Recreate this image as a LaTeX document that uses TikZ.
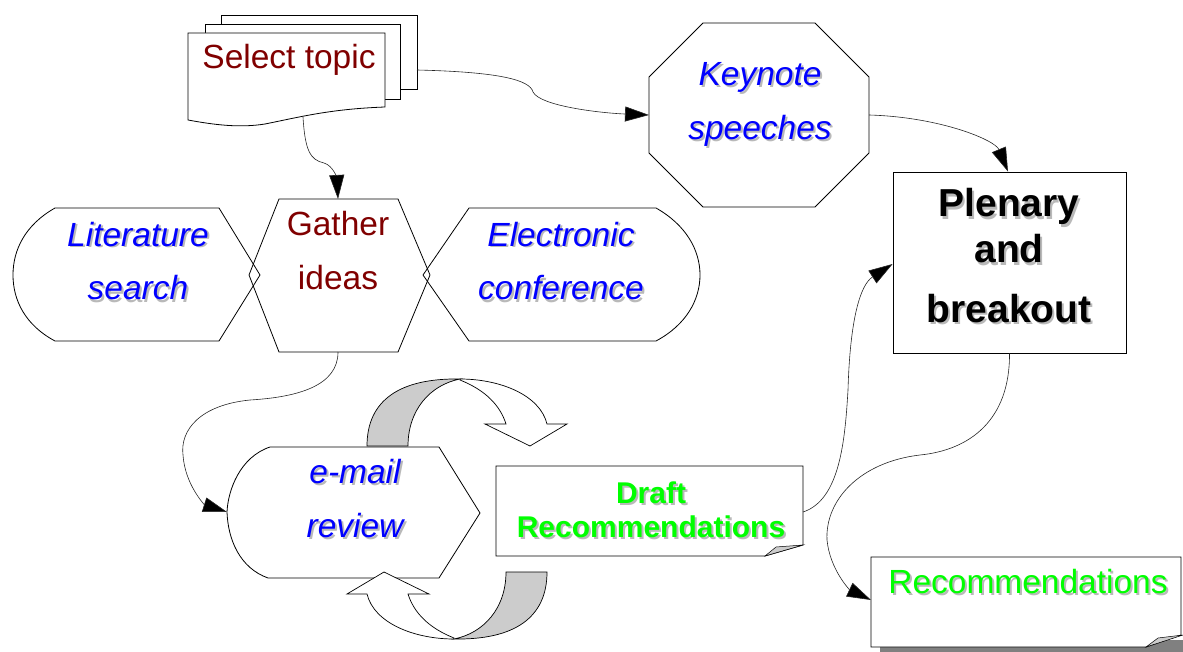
\documentclass[tikz,border=0pt]{standalone}
\usepackage{fontspec}
\setmainfont{Liberation Sans}
\usetikzlibrary{arrows.meta}

\definecolor{keyblue}{RGB}{0,0,255}
\definecolor{leafgreen}{RGB}{0,255,0}
\definecolor{topicred}{RGB}{128,0,0}
\definecolor{shadowgray}{RGB}{185,185,185}
\definecolor{ribbongray}{RGB}{204,204,204}
\definecolor{dropgray}{RGB}{128,128,128}

% text with a soft drop shadow
\newcommand\shd[1]{\leavevmode\rlap{\kern2pt\raisebox{-2pt}{\textcolor{shadowgray}{#1}}}#1}

\tikzset{
  outline/.style={draw=black, line width=0.8pt, fill=white},
  ribbon/.style={draw=black, line width=0.7pt},
  link/.style={draw=black!85, line width=0.6pt, -{Triangle[length=24pt,width=15pt,fill=black]}},
  % multi-line labels sit on the baseline of their last line
  label/.style={anchor=base, align=center, inner sep=0pt},
  plain/.style={label, font=\fontsize{33.5}{54}\selectfont},
  bluetext/.style={label, font=\fontsize{33.5}{54}\selectfont\itshape, text=keyblue},
}

\begin{document}
\begin{tikzpicture}[x=1pt,y=-1pt]
\useasboundingbox (0,0) rectangle (1183,652);

% ---- stacked documents: Select topic
\draw[outline] (221,15) rectangle (417,89);
\draw[outline] (205,24) rectangle (400,99);
\draw[outline] (188,33) -- (385,33) -- (385,107)
  .. controls (330,109) and (300,117) .. (265,124)
  .. controls (240,128) and (215,125) .. (188,120) -- cycle;
\node[plain, text=topicred] (tSelect) at (289,69) {Select topic};

% ---- octagon: Keynote speeches
\draw[outline] (703,23) -- (815,23) -- (869,77) -- (869,153) -- (815,207)
  -- (703,207) -- (649,153) -- (649,77) -- cycle;
\node[bluetext] (tKeynote) at (760,140) {\shd{Keynote}\\\shd{speeches}};

% ---- Plenary and breakout
\node[draw=black, line width=0.8pt, fill=white, minimum width=233pt,
      minimum height=181pt, inner sep=0pt] (plen) at (1009.5,262.5) {};
\node[label, font=\fontsize{39}{46}\selectfont\bfseries] (tPlen) at (1009,322)
  {\shd{Plenary}\\\shd{and}\\[13pt]\shd{breakout}};

% ---- Literature search
\draw[outline] (55,208) -- (219,208) -- (260,275) -- (219,341) -- (55,341)
  .. controls (25,325) and (13,300) .. (13,275)
  .. controls (13,250) and (25,225) .. (55,208) -- cycle;
\node[bluetext] (tLit) at (138,300) {\shd{Literature}\\\shd{search}};

% ---- Electronic conference
\draw[outline] (469,208) -- (656,208)
  .. controls (686,225) and (700,250) .. (700,275)
  .. controls (700,300) and (686,325) .. (656,341)
  -- (469,341) -- (423,275) -- cycle;
\node[bluetext] (tElec) at (561,300) {\shd{Electronic}\\\shd{conference}};

% ---- Gather ideas hexagon
\draw[draw=black, line width=0.8pt] (279,199) -- (398,199) -- (430,275) -- (398,352)
  -- (279,352) -- (249,275) -- cycle;
\node[plain, text=topicred] (tGather) at (338,290) {Gather\\ideas};

% ---- e-mail review
\draw[outline] (270,447) -- (439,447) -- (480,513) -- (439,578) -- (268,578)
  .. controls (240,568) and (228,540) .. (227,512)
  .. controls (228,490) and (240,457) .. (270,447) -- cycle;
\node[bluetext] (tMail) at (355,537) {\shd{e-mail}\\\shd{review}};

% ---- Draft Recommendations (curled corner)
\draw[outline] (496,466) -- (803,466) -- (803,545) -- (765,556) -- (496,556) -- cycle;
\draw[ribbon, line width=0.5pt, fill=ribbongray] (765,556) -- (803,545) -- (776,547) -- cycle;
\node[label, font=\fontsize{30}{34}\selectfont\bfseries, text=leafgreen] (tDraft)
  at (651,537) {\shd{Draft}\\\shd{Recommendations}};

% ---- Recommendations (curled corner, drop shadow)
\fill[dropgray] (880,640) rectangle (1183,652);
\draw[outline] (871,557) -- (1181,557) -- (1181,635) -- (1146,647) -- (871,647) -- cycle;
\draw[ribbon, line width=0.5pt, fill=ribbongray] (1146,647) -- (1183,635) -- (1158,638) -- cycle;
\node[plain, text=leafgreen] (tRec) at (1028,593) {\shd{Recommendations}};

% ---- review cycle: two twisted ribbon arrows
\begin{scope}
  \filldraw[ribbon, fill=ribbongray] (367,446) .. controls (367,400) and (400,378) .. (460,379)
    .. controls (430,385) and (408,410) .. (408,446) -- cycle;
  \filldraw[ribbon, fill=white] (460,379) .. controls (500,379) and (540,395) .. (547,424)
    -- (567,424) -- (530,446) -- (485,424) -- (506,424)
    .. controls (500,405) and (485,390) .. (460,380) -- cycle;
\end{scope}
\begin{scope}[rotate around={180:(457,509)}]
  \filldraw[ribbon, fill=ribbongray] (367,446) .. controls (367,400) and (400,378) .. (460,379)
    .. controls (430,385) and (408,410) .. (408,446) -- cycle;
  \filldraw[ribbon, fill=white] (460,379) .. controls (500,379) and (540,395) .. (547,424)
    -- (567,424) -- (530,446) -- (485,424) -- (506,424)
    .. controls (500,405) and (485,390) .. (460,380) -- cycle;
\end{scope}

% ---- connection points
\coordinate (topicR) at (417,70);
\coordinate (topicB) at (303,117);
\coordinate (keyW) at (649,115);
\coordinate (keyE) at (869,115);
\coordinate (gatherN) at (338,199);
\coordinate (gatherS) at (338,352);
\coordinate (mailW) at (227,512);
\coordinate (draftE) at (803,512);
\coordinate (recW) at (871,600);

% ---- connectors
\draw[link] (topicR) .. controls (500,72) and (530,80) .. (533,92)
  .. controls (540,106) and (600,113) .. (keyW);
\draw[link] (topicB) .. controls (305,150) and (310,160) .. (324,163)
  .. controls (334,166) and (337,180) .. (gatherN);
\draw[link] (gatherS) .. controls (338,385) and (300,397) .. (250,400)
  .. controls (200,405) and (180,430) .. (183,455)
  .. controls (185,485) and (205,505) .. (mailW);
\draw[link] (keyE) .. controls (940,117) and (995,140) .. ([xshift=-1.5pt]plen.north);
\draw[link] (draftE) .. controls (840,500) and (845,440) .. (848,390)
  .. controls (850,320) and (860,285) .. ([yshift=-1.5pt]plen.west);
\draw[link] (plen.south) .. controls (1010,420) and (970,450) .. (920,455)
  .. controls (860,462) and (825,500) .. (827,540)
  .. controls (830,570) and (850,590) .. (recW);
\end{tikzpicture}
\end{document}
